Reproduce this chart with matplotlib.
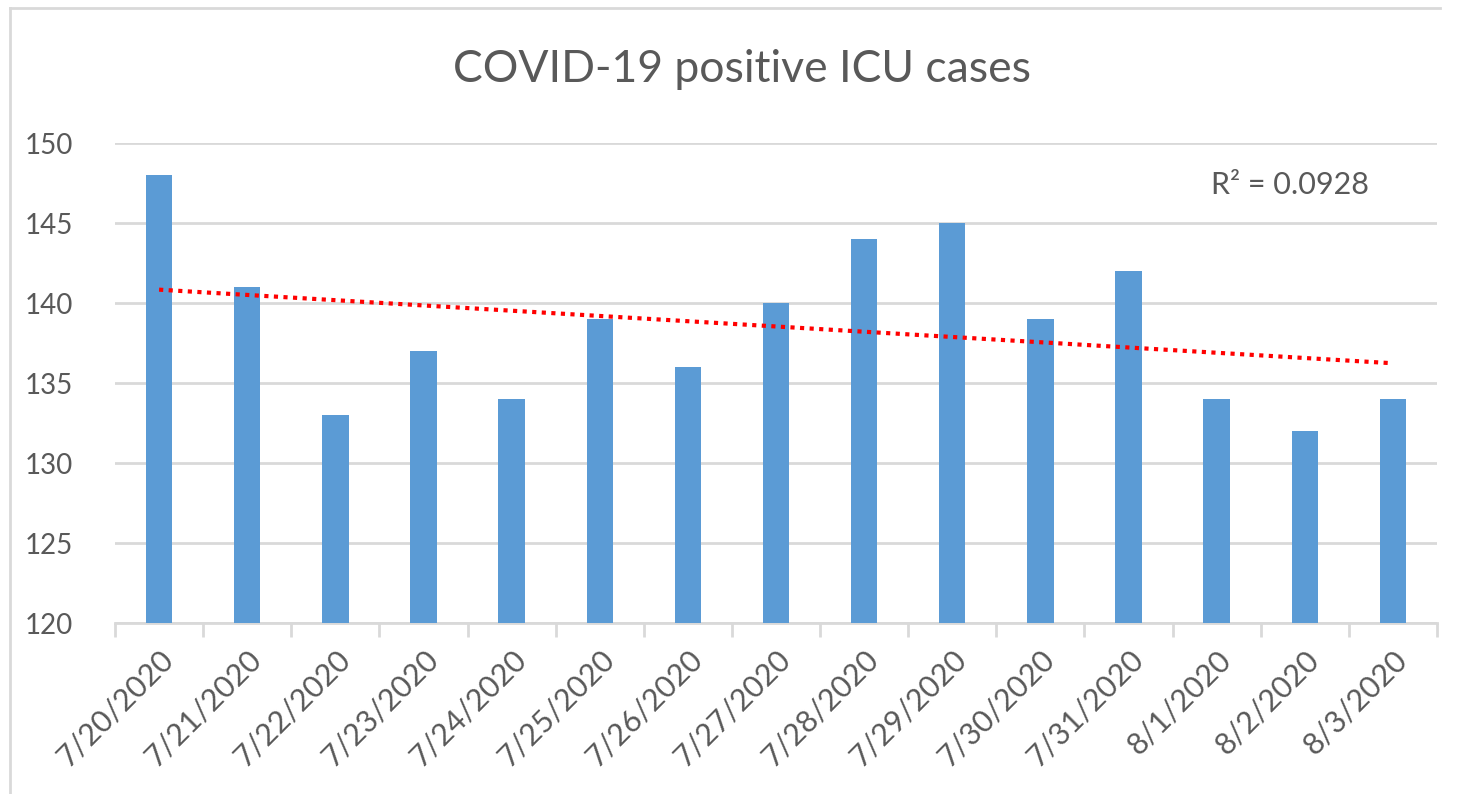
import numpy as np
import matplotlib
matplotlib.use("Agg")
import matplotlib.pyplot as plt
from matplotlib.lines import Line2D

dates = ["7/20/2020", "7/21/2020", "7/22/2020", "7/23/2020", "7/24/2020",
         "7/25/2020", "7/26/2020", "7/27/2020", "7/28/2020", "7/29/2020",
         "7/30/2020", "7/31/2020", "8/1/2020", "8/2/2020", "8/3/2020"]
cases = [148, 141, 133, 137, 134, 139, 136, 140, 144, 145, 139, 142, 134, 132, 134]
yticks = [120, 125, 130, 135, 140, 145, 150]
title = "COVID-19 positive ICU cases"
r2_label = "R² = 0.0928"

plt.rcParams['font.family'] = ['Lato', 'DejaVu Sans']
W, H = 1465, 794
fig = plt.figure(figsize=(W / 100, H / 100), dpi=100)
ax = fig.add_axes([115 / W, 1 - 623 / H, (1437 - 115) / W, (623 - 143) / H])

x = np.arange(len(cases))
ax.bar(x, cases, width=0.3, color="#5b9bd5", zorder=3)

# linear trendline
coef = np.polyfit(x, cases, 1)
ax.plot(x, np.polyval(coef, x), color="#ff0000", linestyle=(0, (1, 1.3)),
        linewidth=3, zorder=4)

ax.set_xlim(-0.5, len(cases) - 0.5)
ax.set_ylim(120, 150)
ax.set_yticks(yticks)
ax.set_yticklabels([str(v) for v in yticks], fontsize=20, color="#595959")
ax.tick_params(axis="y", length=0, pad=30)
ax.yaxis.grid(True, color="#d9d9d9", linewidth=2)
ax.set_axisbelow(True)

ax.set_xticks(x)
ax.set_xticklabels(dates, rotation=45, ha="right", rotation_mode="anchor",
                   fontsize=22, color="#595959")
ax.tick_params(axis="x", length=0, pad=16)
for lab in ax.get_xticklabels():
    lab.set_x(lab.get_position()[0])
ax.set_xticks(np.arange(len(cases) + 1) - 0.5, minor=True)
ax.tick_params(axis="x", which="minor", length=10, width=2, color="#d9d9d9")

for s in ["top", "right", "left"]:
    ax.spines[s].set_visible(False)
ax.spines["bottom"].set_color("#d9d9d9")
ax.spines["bottom"].set_linewidth(2)

fig.text(742 / W, 1 - 70 / H, title, ha="center", va="center",
         fontsize=32, color="#595959")
ax.text(1290 / W, 1 - 185 / H, r2_label, transform=fig.transFigure,
        ha="center", va="center", fontsize=22, color="#595959")

# chart border (left and top)
fig.add_artist(Line2D([10 / W, 10 / W], [0, 1 - 8 / H], transform=fig.transFigure,
                      color="#d9d9d9", linewidth=2))
fig.add_artist(Line2D([10 / W, 1440 / W], [1 - 8 / H, 1 - 8 / H], transform=fig.transFigure,
                      color="#d9d9d9", linewidth=2))

fig.savefig("out.png", dpi=100, facecolor="white")
